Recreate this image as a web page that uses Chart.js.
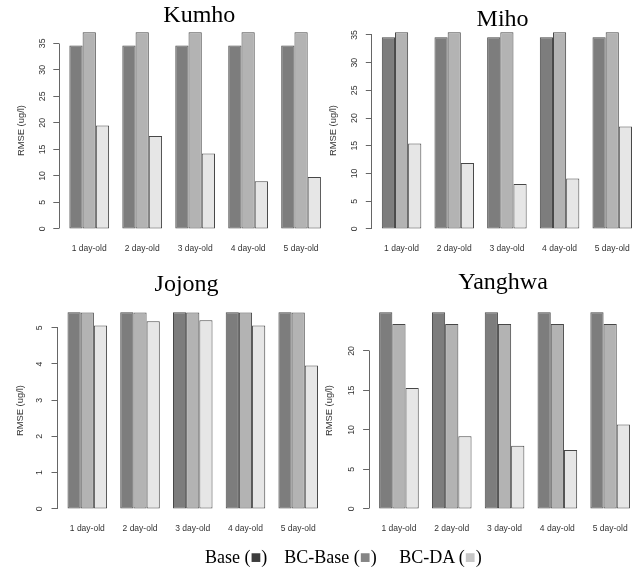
<!DOCTYPE html>
<html>
<head>
<meta charset="utf-8">
<script src="https://cdn.jsdelivr.net/npm/chart.js@4/dist/chart.umd.min.js"></script>
<style>
  html, body { margin: 0; padding: 0; background: #fff; }
  body { width: 641px; height: 574px; position: relative; overflow: hidden; }
  canvas { position: absolute; }
  .title {
    position: absolute; transform: translateX(-50%);
    font-family: 'Liberation Serif', 'Times New Roman', serif;
    font-size: 24px; line-height: 24px; color: #000; white-space: nowrap;
  }
  .key {
    position: absolute;
    font-family: 'Liberation Serif', 'Times New Roman', serif;
    font-size: 18px; line-height: 18px; color: #000; white-space: nowrap;
  }
</style>
</head>
<body>
<canvas id="kumho"   width="331" height="270" style="left:0px;top:0px"></canvas>
<canvas id="miho"    width="322" height="270" style="left:320px;top:0px"></canvas>
<canvas id="jojong"  width="328" height="270" style="left:0px;top:280px"></canvas>
<canvas id="yanghwa" width="320" height="270" style="left:320px;top:280px"></canvas>

<div class="title" style="left:199.3px;top:1.6px">Kumho</div>
<div class="title" style="left:502.6px;top:5.9px">Miho</div>
<div class="title" style="left:186.6px;top:270.6px">Jojong</div>
<div class="title" style="left:503px;top:269.2px">Yanghwa</div>

<div class="key" style="left:205px;top:548px">Base (<span style="color:#3d3d3d">■</span>)</div>
<div class="key" style="left:284.3px;top:548px">BC-Base (<span style="color:#858585">■</span>)</div>
<div class="key" style="left:399.3px;top:548px">BC-DA (<span style="color:#c6c6c6">■</span>)</div>

<script>
// Forecast lead times (x categories) and series names
const leadTimes = ['1 day-old', '2 day-old', '3 day-old', '4 day-old', '5 day-old'];
const seriesNames = ['Base', 'BC-Base', 'BC-DA'];

// RMSE (ug/l) per station
const kumhoBase    = [34.6, 34.6, 34.6, 34.6, 34.6];
const kumhoBcBase  = [37.1, 37.1, 37.1, 37.1, 37.1];
const kumhoBcDa    = [19.5, 17.5, 14.2, 9.0, 9.8];

const mihoBase     = [34.6, 34.6, 34.6, 34.6, 34.6];
const mihoBcBase   = [35.5, 35.5, 35.5, 35.5, 35.5];
const mihoBcDa     = [15.4, 11.9, 8.1, 9.1, 18.5];

const jojongBase   = [5.43, 5.43, 5.43, 5.43, 5.43];
const jojongBcBase = [5.42, 5.42, 5.42, 5.42, 5.42];
const jojongBcDa   = [5.06, 5.18, 5.21, 5.06, 3.96];

const yanghwaBase   = [24.9, 24.9, 24.9, 24.9, 24.9];
const yanghwaBcBase = [23.4, 23.4, 23.4, 23.4, 23.4];
const yanghwaBcDa   = [15.3, 9.2, 8.0, 7.45, 10.7];

// y-axis tick labels
const kumhoTicks   = [0, 5, 10, 15, 20, 25, 30, 35];
const mihoTicks    = [0, 5, 10, 15, 20, 25, 30, 35];
const jojongTicks  = [0, 1, 2, 3, 4, 5];
const yanghwaTicks = [0, 5, 10, 15, 20];

const barFills = ['#7d7d7d', '#b3b3b3', '#e6e6e6'];

Chart.defaults.font.family = "'Liberation Sans', Arial, Helvetica, sans-serif";

// pixel-snapped position for 1px lines
const snap = v => Math.round(v - 0.5) + 0.5;

// y axis line running from the first to the last tick only
const axisLine = {
  id: 'axisLine',
  afterDraw(chart) {
    const s = chart.scales.y;
    const t = s.ticks;
    const ctx = chart.ctx;
    const x = snap(s.right);
    ctx.save();
    ctx.strokeStyle = '#666';
    ctx.lineWidth = 1;
    ctx.beginPath();
    ctx.moveTo(x, snap(s.getPixelForValue(t[0].value)));
    ctx.lineTo(x, snap(s.getPixelForValue(t[t.length - 1].value)));
    ctx.stroke();
    ctx.restore();
  }
};

function panel(id, series, ticks, axisWidth, tickPad, titlePad) {
  const top = Math.max(...series.flat());
  new Chart(document.getElementById(id), {
    type: 'bar',
    data: {
      labels: leadTimes.map((_, i) => i + 1),
      datasets: series.map((values, k) => ({
        label: seriesNames[k],
        data: values,
        backgroundColor: barFills[k],
        borderColor: '#474747',
        borderWidth: 1,
        borderSkipped: false,
        categoryPercentage: 0.75,
        barPercentage: 1.0
      }))
    },
    options: {
      responsive: false,
      animation: false,
      devicePixelRatio: 1,
      events: [],
      layout: { padding: { top: 24.3, left: 0, right: 0, bottom: 0 } },
      plugins: { legend: { display: false }, tooltip: { enabled: false }, title: { display: false } },
      scales: {
        x: {
          type: 'linear',
          offset: false,
          min: 0.435,
          max: 5.565,
          afterBuildTicks: s => { s.ticks = leadTimes.map((_, i) => ({ value: i + 1 })); },
          afterFit: s => { s.height = 33.2; s.paddingLeft = 0; s.paddingRight = 0; },
          grid: { display: false, drawTicks: false, offset: false },
          border: { display: false },
          ticks: {
            autoSkip: false, maxRotation: 0, padding: 6.4,
            font: { size: 8.5 }, color: '#333',
            callback: v => leadTimes[v - 1]
          }
        },
        y: {
          min: -0.04 * top,
          max: 1.04 * top,
          afterBuildTicks: s => { s.ticks = ticks.map(v => ({ value: v })); },
          afterFit: s => { s.width = axisWidth; s.paddingTop = 0; s.paddingBottom = 0; },
          grid: { display: true, drawOnChartArea: false, drawTicks: true, tickLength: 6, color: '#666', lineWidth: 1 },
          border: { display: false },
          ticks: {
            autoSkip: false, minRotation: 90, maxRotation: 90, crossAlign: 'center',
            padding: tickPad, font: { size: 8.7 }, color: '#333'
          },
          title: {
            display: true, text: 'RMSE (ug/l)',
            font: { size: 9.4 }, color: '#333',
            padding: { top: titlePad, bottom: 0 }
          }
        }
      }
    },
    plugins: [axisLine]
  });
}

panel('kumho',   [kumhoBase, kumhoBcBase, kumhoBcDa],       kumhoTicks,   59.3, 5.4, 16.1);
panel('miho',    [mihoBase, mihoBcBase, mihoBcDa],          mihoTicks,    51.8, 6.0, 7.7);
panel('jojong',  [jojongBase, jojongBcBase, jojongBcDa],    jojongTicks,  57.5, 9.0, 14.4);
panel('yanghwa', [yanghwaBase, yanghwaBcBase, yanghwaBcDa], yanghwaTicks, 49.1, 6.5, 3.7);
</script>
</body>
</html>
